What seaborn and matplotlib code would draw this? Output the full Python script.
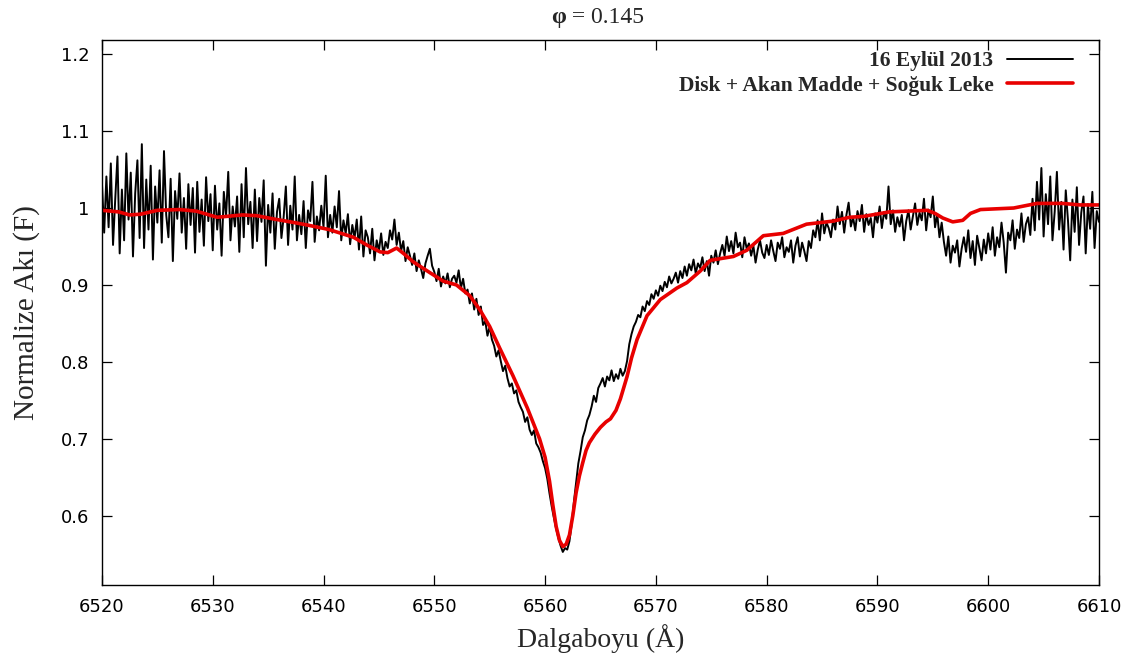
import numpy as np
import pandas as pd
import matplotlib
matplotlib.use("Agg")
import matplotlib.pyplot as plt
from matplotlib import ticker
import seaborn as sns

# Observed H-alpha profile, sampled every 0.2 A from 6520 to 6610 A
wave_start, wave_step = 6520.0, 0.2
observed_flux = [
    1.032, 0.968, 1.041, 0.975, 1.058, 0.952, 1.012, 1.067, 0.941, 1.024,
    0.958, 1.071, 0.985, 1.046, 0.937, 1.019, 1.062, 0.961, 1.083, 0.948,
    1.037, 0.972, 1.055, 0.933, 1.028, 0.981, 1.049, 0.955, 1.074, 0.991,
    0.962, 1.038, 0.931, 1.022, 0.986, 1.045, 0.968, 1.013, 0.947, 1.031,
    0.978, 1.026, 0.942, 1.034, 0.969, 1.011, 0.951, 1.040, 0.983, 1.018,
    0.945, 1.029, 0.972, 1.006, 0.938, 1.021, 0.989, 1.047, 0.958, 1.002,
    0.976, 1.015, 0.943, 1.031, 0.962, 1.052, 0.979, 1.008, 0.948, 1.024,
    0.957, 1.013, 0.982, 1.036, 0.925, 1.004, 0.968, 1.019, 0.947, 0.995,
    1.012, 0.961, 0.988, 1.028, 0.952, 1.003, 0.972, 1.041, 0.958, 0.991,
    0.966, 1.009, 0.948, 0.997, 0.983, 1.034, 0.956, 0.989, 0.971, 1.003,
    0.975, 1.042, 0.962, 0.991, 0.968, 1.002, 0.975, 1.022, 0.958, 0.984,
    0.967, 0.992, 0.953, 0.978, 0.961, 0.985, 0.946, 0.989, 0.937, 0.971,
    0.962, 0.941, 0.973, 0.932, 0.958, 0.944, 0.967, 0.939, 0.956, 0.948,
    0.971, 0.959, 0.985, 0.952, 0.968, 0.944, 0.957, 0.931, 0.949, 0.938,
    0.926, 0.941, 0.918, 0.932, 0.921, 0.909, 0.928, 0.938, 0.947, 0.925,
    0.917, 0.905, 0.921, 0.898, 0.911, 0.902, 0.915, 0.897, 0.908, 0.912,
    0.903, 0.919, 0.896, 0.908, 0.889, 0.894, 0.876, 0.889, 0.868, 0.882,
    0.861, 0.872, 0.848, 0.853, 0.834, 0.846, 0.829, 0.821, 0.807, 0.815,
    0.801, 0.788, 0.795, 0.779, 0.768, 0.772, 0.759, 0.763, 0.748, 0.741,
    0.735, 0.722, 0.728, 0.712, 0.705, 0.711, 0.694, 0.689, 0.682, 0.671,
    0.662, 0.648, 0.629, 0.612, 0.597, 0.583, 0.571, 0.561, 0.553, 0.558,
    0.556, 0.567, 0.589, 0.618, 0.643, 0.668, 0.684, 0.702, 0.711, 0.724,
    0.731, 0.742, 0.756, 0.748, 0.766, 0.772, 0.779, 0.768, 0.781, 0.776,
    0.789, 0.775, 0.784, 0.778, 0.791, 0.782, 0.788, 0.801, 0.823, 0.836,
    0.846, 0.852, 0.861, 0.858, 0.872, 0.866, 0.879, 0.874, 0.888, 0.882,
    0.893, 0.886, 0.899, 0.892, 0.904, 0.897, 0.911, 0.902, 0.908, 0.916,
    0.903, 0.918, 0.909, 0.924, 0.912, 0.927, 0.919, 0.933, 0.915, 0.928,
    0.922, 0.936, 0.918, 0.931, 0.912, 0.938, 0.929, 0.945, 0.927, 0.941,
    0.952, 0.938, 0.963, 0.944, 0.957, 0.941, 0.968, 0.949, 0.955, 0.936,
    0.962, 0.947, 0.954, 0.938, 0.951, 0.929, 0.946, 0.958, 0.942, 0.935,
    0.952, 0.939, 0.958, 0.944, 0.931, 0.955, 0.947, 0.962, 0.936, 0.949,
    0.943, 0.958, 0.929, 0.951, 0.962, 0.937, 0.955, 0.944, 0.931, 0.957,
    0.948, 0.971, 0.962, 0.984, 0.958, 0.993, 0.967, 0.981, 0.974, 0.962,
    0.985, 0.972, 1.002, 0.979, 0.995, 0.968, 0.991, 1.007, 0.976, 0.988,
    0.971, 0.996, 0.983, 1.004, 0.969, 0.992, 0.978, 0.987, 0.962, 0.993,
    0.981, 1.002, 0.974, 0.995, 0.986, 1.028, 0.979, 0.997, 0.969, 0.988,
    0.976, 0.991, 0.958, 0.983, 0.997, 0.972, 0.989, 1.006, 0.978, 0.994,
    0.984, 1.012, 0.971, 0.998, 0.988, 1.015, 0.975, 0.992, 0.962, 0.981,
    0.956, 0.938, 0.963, 0.929, 0.951, 0.942, 0.958, 0.924, 0.947, 0.962,
    0.943, 0.971, 0.935, 0.957, 0.926, 0.964, 0.948, 0.932, 0.959, 0.941,
    0.967, 0.946, 0.975, 0.938, 0.962, 0.949, 0.981, 0.955, 0.916, 0.968,
    0.958, 0.984, 0.947, 0.972, 0.961, 0.993, 0.956, 0.979, 0.988, 0.965,
    1.012, 0.971, 1.034, 0.985, 1.052, 0.963, 1.018, 0.979, 1.041, 0.958,
    0.995, 1.047, 0.972, 1.008, 0.946, 1.023, 0.984, 0.932, 1.011, 0.969,
    1.027, 0.952, 0.994, 1.015, 0.941, 1.005, 0.973, 1.021, 0.948, 0.996,
    0.982,
]
observed_wave = wave_start + wave_step * np.arange(len(observed_flux))

# Synthetic profile: disk + outflowing matter + cool spot
model_wave = [
    6520.0, 6521.5, 6522.5, 6523.5, 6525.0, 6527.0, 6528.5, 6530.4, 6532.7,
    6534.0, 6535.4, 6537.0, 6538.5, 6540.5, 6542.7, 6543.9, 6545.1, 6545.8,
    6546.6, 6547.3, 6548.1, 6549.6, 6550.8, 6552.0, 6553.2, 6554.1, 6555.0,
    6555.9, 6557.1, 6558.4, 6559.5, 6560.0, 6560.4, 6560.7, 6561.0, 6561.3,
    6561.6, 6561.9, 6562.2, 6562.5, 6562.8, 6563.1, 6563.4, 6563.7, 6564.0,
    6564.5, 6565.0, 6565.5, 6565.9, 6566.4, 6566.8, 6567.4, 6567.8, 6568.3,
    6569.2, 6570.4, 6571.9, 6572.8, 6574.0, 6574.9, 6577.0, 6578.2, 6579.7,
    6581.5, 6583.6, 6586.0, 6587.5, 6588.7, 6591.1, 6594.5, 6595.2, 6595.9,
    6596.8, 6597.7, 6598.4, 6599.3, 6602.3, 6604.4, 6606.7, 6608.3, 6610.0,
]
model_flux = [
    0.997, 0.995, 0.991, 0.992, 0.997, 0.998, 0.996, 0.988, 0.991,
    0.990, 0.986, 0.982, 0.978, 0.972, 0.962, 0.952, 0.943, 0.942,
    0.948, 0.940, 0.930, 0.916, 0.905, 0.900, 0.886, 0.868, 0.846,
    0.818, 0.782, 0.740, 0.700, 0.676, 0.645, 0.614, 0.586, 0.568,
    0.560, 0.563, 0.575, 0.600, 0.630, 0.652, 0.669, 0.685, 0.695,
    0.706, 0.715, 0.722, 0.726, 0.737, 0.752, 0.781, 0.805, 0.829,
    0.860, 0.881, 0.896, 0.903, 0.918, 0.932, 0.937, 0.945, 0.964,
    0.967, 0.979, 0.983, 0.988, 0.989, 0.995, 0.997, 0.993, 0.987,
    0.982, 0.984, 0.993, 0.998, 1.000, 1.006, 1.006, 1.004, 1.004,
]

obs_label = "16 Eylül 2013"
model_label = "Disk + Akan Madde + Soğuk Leke"
x_ticks = [6520, 6530, 6540, 6550, 6560, 6570, 6580, 6590, 6600, 6610]
y_ticks = [0.6, 0.7, 0.8, 0.9, 1.0, 1.1, 1.2]

sns.set_style("ticks")
plt.rcParams["font.family"] = ["DejaVu Sans"]
serif = ["Liberation Serif", "DejaVu Serif"]

obs_df = pd.DataFrame({"wave": observed_wave, "flux": observed_flux})
model_df = pd.DataFrame({"wave": model_wave, "flux": model_flux})

fig = plt.figure(figsize=(11.43, 6.62), dpi=100)
ax = fig.add_axes([0.0892, 0.1163, 0.8723, 0.824])

sns.lineplot(data=obs_df, x="wave", y="flux", ax=ax, color="black",
             linewidth=1.4, label=obs_label, estimator=None, sort=False)
sns.lineplot(data=model_df, x="wave", y="flux", ax=ax, color="#e80000",
             linewidth=2.6, label=model_label, estimator=None, sort=False)

ax.set_xlim(6520, 6610)
ax.set_ylim(0.51, 1.219)
ax.set_xticks(x_ticks)
ax.set_yticks(y_ticks)
ax.yaxis.set_major_formatter(ticker.FormatStrFormatter("%g"))
ax.tick_params(direction="in", length=7, width=0.9, top=True, right=True,
               labelsize=13, colors="black", pad=9)
for s in ax.spines.values():
    s.set_linewidth(1.0)
    s.set_color("black")

ax.set_xlabel("Dalgaboyu (Å)", family=serif, fontsize=20, labelpad=6)
ax.set_ylabel("Normalize Akı (F)", family=serif, fontsize=21, labelpad=15)

# Title: bold phase symbol followed by the phase value
fig.text(0.4955, 0.966, "φ", family=serif, weight="bold", fontsize=17,
         ha="right", va="baseline")
fig.text(0.4955, 0.966, " = 0.145", family=serif, fontsize=17,
         ha="left", va="baseline")

# Legend in the upper right, labels right-aligned against their line samples
leg = ax.legend(loc="upper right", bbox_to_anchor=(0.983, 0.994),
                frameon=False, markerfirst=False, borderaxespad=0.0,
                prop={"family": serif, "weight": "bold", "size": 15.5},
                handlelength=3.07, handletextpad=0.65, labelspacing=0.2)
for col in leg._legend_handle_box.get_children():
    col.align = "right"

fig.savefig("out.png", dpi=100, facecolor="white")
